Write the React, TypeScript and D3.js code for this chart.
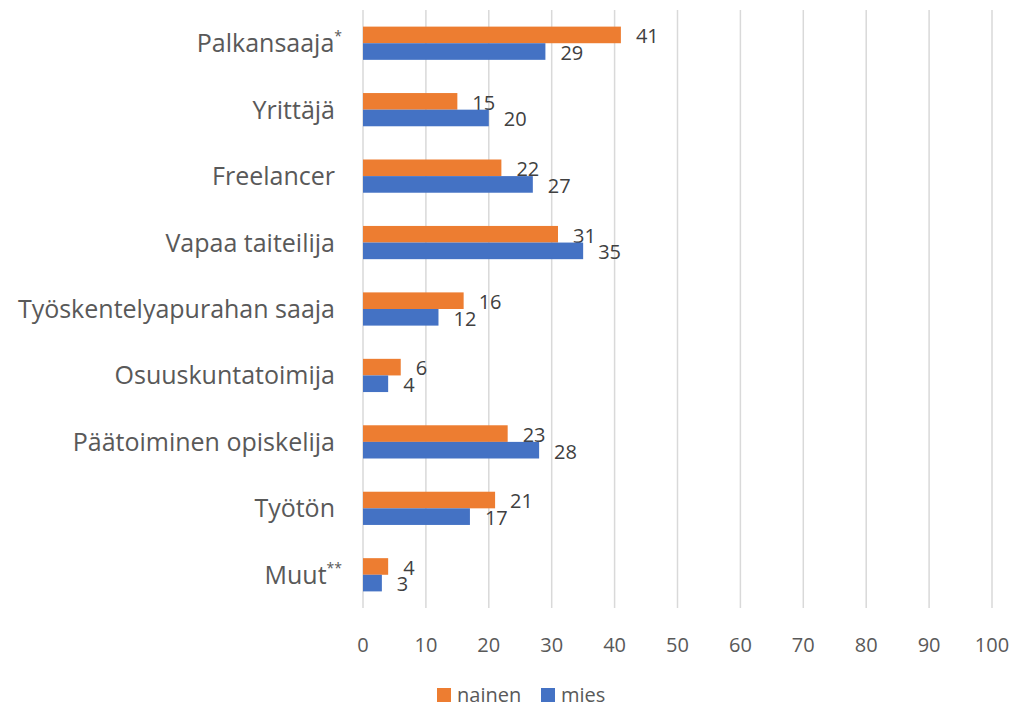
import React, { useEffect, useRef } from 'react'
import * as d3 from 'd3'

const categories = ['Palkansaaja', 'Yrittäjä', 'Freelancer', 'Vapaa taiteilija', 'Työskentelyapurahan saaja', 'Osuuskuntatoimija', 'Päätoiminen opiskelija', 'Työtön', 'Muut']
const marks = ['*', '', '', '', '', '', '', '', '**']
const nainen = [41, 15, 22, 31, 16, 6, 23, 21, 4]
const mies = [29, 20, 27, 35, 12, 4, 28, 17, 3]
const seriesNames = ['nainen', 'mies']
const seriesColors = ['#ED7D31', '#4472C4']
const xTicks = [0, 10, 20, 30, 40, 50, 60, 70, 80, 90, 100]

const W = 1013
const H = 707
const FONT = '"Open Sans", sans-serif'
const TEXT = '#595959'

function App() {
  const ref = useRef<SVGSVGElement>(null)

  useEffect(() => {
    const svg = d3.select(ref.current)
    svg.selectAll('*').remove()

    const left = 363
    const right = 992
    const top = 10
    const bottom = 608

    const x = d3.scaleLinear().domain([0, 100]).range([left, right])
    const y = d3.scaleBand().domain(categories).range([top, bottom]).paddingInner(0.5).paddingOuter(0.25)
    const inner = d3.scaleBand().domain(seriesNames).range([0, y.bandwidth()])

    // gridlines
    svg.append('g')
      .selectAll('line')
      .data(xTicks)
      .enter()
      .append('line')
      .attr('x1', d => x(d))
      .attr('x2', d => x(d))
      .attr('y1', top)
      .attr('y2', bottom)
      .attr('stroke', '#D9D9D9')
      .attr('stroke-width', 1.5)

    // tick labels
    svg.append('g')
      .selectAll('text')
      .data(xTicks)
      .enter()
      .append('text')
      .attr('x', d => x(d))
      .attr('y', 652)
      .attr('text-anchor', 'middle')
      .style('font-family', FONT)
      .style('font-size', '20px')
      .attr('fill', TEXT)
      .text(d => d)

    // category labels
    const catLabels = svg.append('g')
      .selectAll('text')
      .data(categories)
      .enter()
      .append('text')
      .attr('x', (d, i) => marks[i] ? 342 : 335)
      .attr('y', d => (y(d) as number) + y.bandwidth() / 2 + 9)
      .attr('text-anchor', 'end')
      .style('font-family', FONT)
      .style('font-size', '25px')
      .attr('fill', TEXT)
    catLabels.append('tspan').text(d => d)
    catLabels.append('tspan')
      .attr('dy', -11)
      .style('font-size', '14px')
      .text((d, i) => marks[i])

    const series = [nainen, mies]
    series.forEach((vals, s) => {
      const g = svg.append('g')
      g.selectAll('rect')
        .data(vals)
        .enter()
        .append('rect')
        .attr('x', x(0))
        .attr('y', (d, i) => (y(categories[i]) as number) + (inner(seriesNames[s]) as number))
        .attr('width', d => x(d) - x(0))
        .attr('height', inner.bandwidth())
        .attr('fill', seriesColors[s])
      g.selectAll('text')
        .data(vals)
        .enter()
        .append('text')
        .attr('x', d => x(d) + 15)
        .attr('y', (d, i) => (y(categories[i]) as number) + (inner(seriesNames[s]) as number) + inner.bandwidth())
        .style('font-family', FONT)
        .style('font-size', '20px')
        .attr('fill', '#404040')
        .text(d => d)
    })

    // legend
    const legendX = [437, 541]
    const lg = svg.append('g')
    seriesNames.forEach((name, i) => {
      lg.append('rect')
        .attr('x', legendX[i])
        .attr('y', 688)
        .attr('width', 14)
        .attr('height', 14)
        .attr('fill', seriesColors[i])
      lg.append('text')
        .attr('x', legendX[i] + 20)
        .attr('y', 702)
        .style('font-family', FONT)
        .style('font-size', '20px')
        .attr('fill', TEXT)
        .text(name)
    })
  }, [])

  return (
    <svg ref={ref} width={W} height={H} style={{ position: 'absolute', left: 0, top: 0, background: '#fff' }}></svg>
  )
}

export default App
